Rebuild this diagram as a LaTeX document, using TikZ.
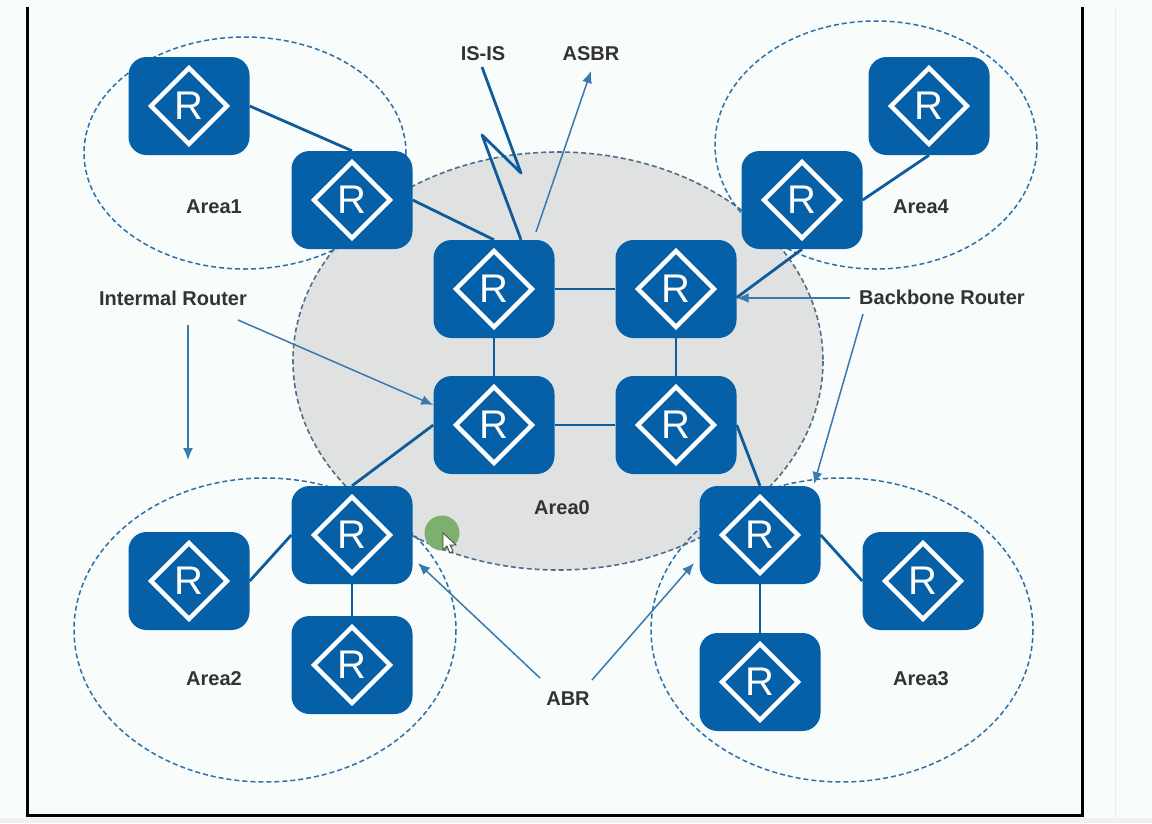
\documentclass[tikz,border=0pt]{standalone}
\usepackage{fontspec}
\setmainfont{Liberation Sans}
\usetikzlibrary{arrows.meta,calc}
\definecolor{bgc}{HTML}{F8FCFB}
\definecolor{routerc}{HTML}{0560A8}
\definecolor{areac}{HTML}{E0E2E1}
\definecolor{dashc}{HTML}{2F6FA8}
\definecolor{dashd}{HTML}{4F6E88}
\definecolor{linkc}{HTML}{0F5C9C}
\definecolor{arrowc}{HTML}{3A78B0}
\definecolor{textc}{HTML}{333333}
\definecolor{blobc}{HTML}{7DB06E}
\tikzset{
  x=1pt,y=-1pt,
  router/.style={rectangle,rounded corners=18pt,fill=routerc,minimum width=121pt,minimum height=98pt,inner sep=0pt,
    text=white,font=\fontsize{40}{40}\selectfont,
    path picture={\draw[white,line width=4.5pt,line join=miter,sharp corners]
      ($(path picture bounding box.center)+(-38,0)$) -- ($(path picture bounding box.center)+(0,-38)$) --
      ($(path picture bounding box.center)+(38,0)$) -- ($(path picture bounding box.center)+(0,38)$) -- cycle;}},
  link/.style={draw=linkc,line width=2.8pt},
  pointer/.style={draw=arrowc,line width=1.5pt,-{Latex[length=12pt,width=10pt]}},
  areaell/.style={draw=dashc,line width=1.5pt,dash pattern=on 5pt off 3pt},
  lbl/.style={text=textc,font=\fontsize{20}{22}\selectfont\bfseries,inner sep=0pt},
}
\begin{document}
\begin{tikzpicture}
\useasboundingbox (0,0) rectangle (1152,823);
\fill[bgc] (0,0) rectangle (1152,823);
\fill[black!6] (0,818) rectangle (1152,823);
\draw[black!8,line width=1pt] (1115,7) -- (1115,818);
\draw[black,line width=3pt,line join=miter] (27,7) -- (27,815) -- (1082,815) -- (1082,7);
% areas
\path[fill=areac,draw=dashd,line width=1.6pt,dash pattern=on 5pt off 3pt] (558,361) ellipse [x radius=265,y radius=209];
\path[areaell] (245,153) ellipse [x radius=161,y radius=116];
\path[areaell] (876,145) ellipse [x radius=161,y radius=124];
\path[areaell] (265,630) ellipse [x radius=191,y radius=152];
\path[areaell] (842,630) ellipse [x radius=191,y radius=152];
% routers
\node[router] (r1) at (189,106) {R};
\node[router] (r2) at (352,200) {R};
\node[router] (r3) at (494,289) {R};
\node[router] (r4) at (676,289) {R};
\node[router] (r5) at (494,425) {R};
\node[router] (r6) at (676,425) {R};
\node[router] (r7) at (352,535) {R};
\node[router] (r8) at (189,581) {R};
\node[router] (r9) at (352,665) {R};
\node[router] (r10) at (760,535) {R};
\node[router] (r11) at (923,581) {R};
\node[router] (r12) at (760,682) {R};
\node[router] (r13) at (802,200) {R};
\node[router] (r14) at (929,106) {R};
% links
\draw[link] (r1.east) -- (r2.north);
\draw[link] (r2.east) -- (r3.north);
\draw[link] (r3.east) -- (r4.west);
\draw[link] (r3.south) -- (r5.north);
\draw[link] (r4.south) -- (r6.north);
\draw[link] (r5.east) -- (r6.west);
\draw[link] (r5.west) -- (r7.north);
\draw[link] (r6.east) -- (r10.north);
\draw[link] (r4.-8) -- (r13.south);
\draw[link] (r13.east) -- (r14.south);
\draw[link] (r7.west) -- (r8.east);
\draw[link] (r7.south) -- (r9.north);
\draw[link] (r10.east) -- (r11.west);
\draw[link] (r10.south) -- (r12.north);
% labels
\node[lbl] (a1) at (214,207) {Area1};
\node[lbl] (a4) at (921,207) {Area4};
\node[lbl] (a2) at (214,679) {Area2};
\node[lbl] (a3) at (921,679) {Area3};
\node[lbl] (a0) at (562,508) {Area0};
\node[lbl] (abr) at (568,699) {ABR};
\node[lbl] (bb) at (942,297) {Backbone Router};
\node[lbl] (ir) at (173,298) {Intermal Router};
\node[lbl] (isis) at (483,54) {IS-IS};
\node[lbl] (asbr) at (591,54) {ASBR};
% pointers
\coordinate (p1) at (188,325); \coordinate (p1e) at (188,460);
\coordinate (p2) at (238,320);
\coordinate (p3) at (863,314); \coordinate (p3e) at (814,484);
\coordinate (p4) at (540,678); \coordinate (p4e) at (418,563);
\coordinate (p5) at (592,680); \coordinate (p5e) at (694,563);
\coordinate (p6) at (536,232); \coordinate (p6e) at (591,71);
\draw[pointer] (p1) -- (p1e);
\draw[pointer] (p2) -- (r5.west |- 0,405);
\draw[pointer,shorten <=9pt] (bb.west |- 0,298) -- (r4.east |- 0,298);
\draw[pointer] (p3) -- (p3e);
\draw[pointer] (p4) -- (p4e);
\draw[pointer] (p5) -- (p5e);
\draw[pointer] (p6) -- (p6e);
% IS-IS lightning
\coordinate (z1) at (482,67); \coordinate (z2) at (521,173); \coordinate (z3) at (482,135);
\draw[link,line join=round] (z1) -- (z2) -- (z3) -- (r3.north -| 521,0);
% cursor
\fill[blobc] (442,533) circle (17.5);
\path[fill=white,draw=black!75,line width=.8pt] (443,533) -- (443,550) -- (447,546) -- (450,553) -- (453,551) -- (450,545) -- (456,545) -- cycle;
\end{tikzpicture}
\end{document}
